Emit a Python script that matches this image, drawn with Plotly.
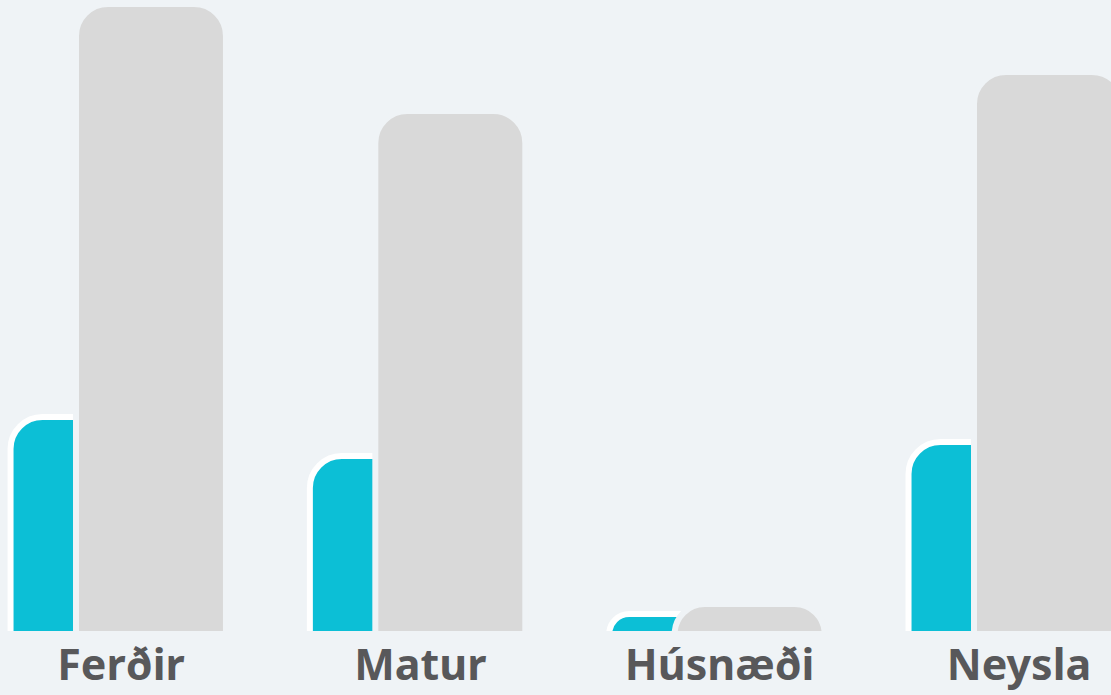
import plotly.graph_objects as go

categories = ["Ferðir", "Matur", "Húsnæði", "Neysla"]
cyan_values = [2.17, 1.78, 0.20, 1.92]
gray_values = [6.30, 5.23, 0.30, 5.62]

BG = "#eff3f6"
CYAN = "#0cbfd6"
GRAY = "#d9d9d9"
TEXT = "#58585a"

idx = list(range(len(categories)))

fig = go.Figure()
fig.add_trace(go.Bar(
    x=idx, y=cyan_values, width=0.501, offset=-0.369,
    marker=dict(color=CYAN, line=dict(color="#ffffff", width=6), cornerradius=32),
    hoverinfo="skip", showlegend=False,
))
fig.add_trace(go.Bar(
    x=idx, y=gray_values, width=0.501, offset=-0.1503,
    marker=dict(color=GRAY, line=dict(color=BG, width=6), cornerradius=32),
    hoverinfo="skip", showlegend=False,
))

fig.update_layout(
    width=1111, height=695,
    margin=dict(l=0, r=0, t=0, b=64, autoexpand=False),
    paper_bgcolor=BG, plot_bgcolor=BG,
    barmode="overlay",
    xaxis=dict(
        range=[-0.4042, 3.3074],
        automargin=False,
        tickmode="array", tickvals=idx, ticktext=categories,
        showgrid=False, zeroline=False, showline=False, ticks="",
        tickfont=dict(family="Noto Sans", size=43, color=TEXT, weight="bold"),
        ticklabelstandoff=5,
    ),
    yaxis=dict(range=[0.03, 6.34], visible=False, showgrid=False, zeroline=False, automargin=False),
)

fig.write_html(
    "out.html",
    config={"displayModeBar": False, "staticPlot": True},
    post_script="document.body.style.margin='0';document.body.style.overflow='hidden';document.body.style.background='%s';" % BG,
)
